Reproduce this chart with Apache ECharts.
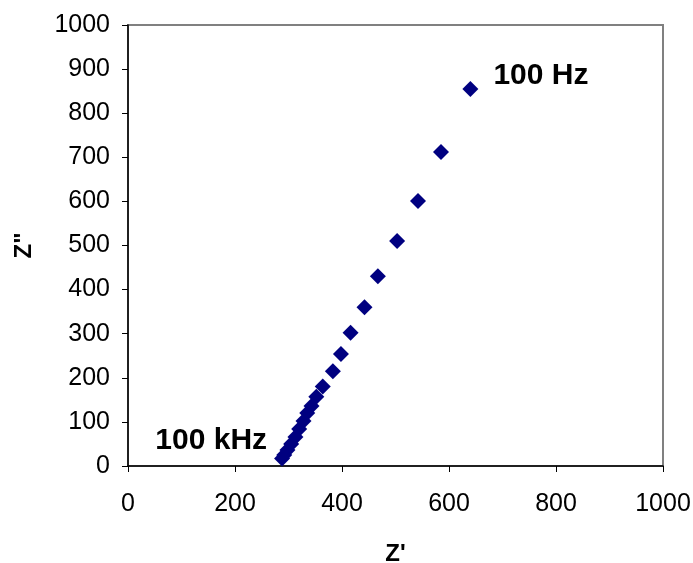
<!DOCTYPE html>
<html>
<head>
<meta charset="utf-8">
<script src="https://cdn.jsdelivr.net/npm/echarts@6/dist/echarts.min.js"></script>
<style>
  html, body { margin: 0; padding: 0; background: #fff; }
  #chart { width: 693px; height: 563px; }
</style>
</head>
<body>
<div id="chart"></div>
<script>
(function () {
  'use strict';

  // impedance points, from 100 Hz (top) down to 100 kHz (bottom)
  const zReal = [640, 585, 542, 503, 467, 442, 416, 398, 383, 364,
                 352, 343, 335, 328, 320, 313, 305, 298, 292, 288];
  const zImag = [855, 712, 601, 510, 430, 360, 302, 254, 215, 180,
                 157, 136, 120, 102, 84, 66, 50, 36, 25, 17];
  const xTicks = [0, 200, 400, 600, 800, 1000];
  const yTicks = [0, 100, 200, 300, 400, 500, 600, 700, 800, 900, 1000];
  const topLabel = '100 Hz';
  const bottomLabel = '100 kHz';

  const font = 'Liberation Sans, Arial, sans-serif';
  const last = zReal.length - 1;
  const plain = function (v) { return String(v); };

  const points = zReal.map(function (x, i) {
    const item = { value: [x, zImag[i]] };
    if (i === 0) {
      item.label = {
        show: true, formatter: topLabel, position: 'right',
        offset: [10, -13], fontSize: 30, fontWeight: 'bold', color: '#000', fontFamily: font
      };
    } else if (i === last) {
      item.label = {
        show: true, formatter: bottomLabel, position: 'left',
        offset: [-2, -18], fontSize: 30, fontWeight: 'bold', color: '#000', fontFamily: font
      };
    }
    return item;
  });

  const chart = echarts.init(document.getElementById('chart'), null, { renderer: 'canvas' });
  chart.setOption({
    animation: false,
    backgroundColor: '#fff',
    grid: {
      left: 128, right: 30, top: 25, bottom: 97,
      outerBoundsMode: 'none', containLabel: false,
      show: true, borderColor: '#808080', borderWidth: 2, backgroundColor: 'transparent'
    },
    xAxis: {
      type: 'value', min: xTicks[0], max: xTicks[xTicks.length - 1], interval: 200,
      name: "Z'", nameLocation: 'middle', nameGap: 76,
      nameTextStyle: { fontSize: 24, fontWeight: 'bold', color: '#000', fontFamily: font },
      axisLine: { show: true, lineStyle: { color: '#000', width: 1.5 } },
      axisTick: { show: true, inside: false, length: 6, lineStyle: { color: '#000' } },
      axisLabel: { fontSize: 25, color: '#000', fontFamily: font, margin: 26, formatter: plain },
      splitLine: { show: false }
    },
    yAxis: {
      type: 'value', min: yTicks[0], max: yTicks[yTicks.length - 1], interval: 100,
      name: 'Z"', nameLocation: 'middle', nameGap: 92, nameRotate: 90,
      nameTextStyle: { fontSize: 24, fontWeight: 'bold', color: '#000', fontFamily: font },
      axisLine: { show: true, lineStyle: { color: '#000', width: 1.5 } },
      axisTick: { show: true, inside: false, length: 6, lineStyle: { color: '#000' } },
      axisLabel: { fontSize: 25, color: '#000', fontFamily: font, margin: 18, formatter: plain },
      splitLine: { show: false }
    },
    series: [{
      type: 'scatter',
      symbol: 'diamond',
      symbolSize: 16,
      itemStyle: { color: '#000080', opacity: 1 },
      data: points
    }]
  });
})();
</script>
</body>
</html>
